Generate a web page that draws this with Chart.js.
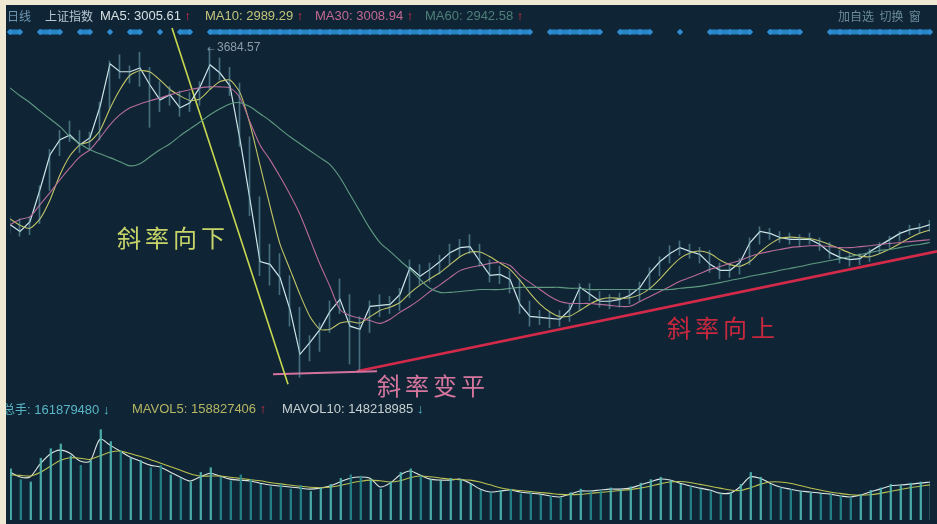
<!DOCTYPE html>
<html>
<head>
<meta charset="utf-8">
<script src="https://cdn.jsdelivr.net/npm/chart.js@4.4.1/dist/chart.umd.min.js"></script>
<style>
    html, body { margin: 0; padding: 0; }
    body { width: 937px; height: 524px; background: #efe8d2; overflow: hidden; position: relative; }
    #wrap { position: absolute; left: 6px; top: 5px; width: 931px; height: 519px; background: #0f2536; overflow: hidden; }
    .lbl { position: absolute; white-space: nowrap; font-family: 'Liberation Sans', 'Noto Sans CJK SC', sans-serif; font-size: 13px; line-height: 15px; }
    .cn { font-family: 'Noto Sans CJK SC', sans-serif; font-size: 12px; }
    .up { color: #e0304a; }
    .dn { color: #58c0d0; }
    .note { position: absolute; white-space: nowrap; font-family: 'Noto Sans CJK SC', sans-serif; font-size: 24px; line-height: 28px; letter-spacing: 4px; }
</style>
</head>
<body>
<div id="wrap">
    <canvas id="klineChart" width="931" height="519"></canvas>

    <!-- header line -->
    <span class="lbl cn" style="left:1px;top:3px;color:#6f97b4;">日线</span>
    <span class="lbl cn" style="left:39px;top:3px;color:#b4c6d0;">上证指数</span>
    <span class="lbl" style="left:94px;top:3px;color:#d6e0e2;">MA5: 3005.61 <span class="up">↑</span></span>
    <span class="lbl" style="left:199px;top:3px;color:#c4c47a;">MA10: 2989.29 <span class="up">↑</span></span>
    <span class="lbl" style="left:309px;top:3px;color:#c46892;">MA30: 3008.94 <span class="up">↑</span></span>
    <span class="lbl" style="left:419px;top:3px;color:#4f7f78;">MA60: 2942.58 <span class="up">↑</span></span>
    <span class="lbl cn" style="left:832px;top:3px;color:#6a8a9a;">加自选&nbsp;&nbsp;切换&nbsp;&nbsp;窗</span>

    <span class="lbl" style="left:199px;top:35px;color:#8a9cab;font-size:12px;">←3684.57</span>

    <!-- volume header -->
    <span class="lbl" style="left:-3px;top:396px;color:#58b6c6;"><span class="cn">总手</span>: 161879480 <span class="dn">↓</span></span>
    <span class="lbl" style="left:126px;top:396px;color:#b6b662;">MAVOL5: 158827406 <span class="up">↑</span></span>
    <span class="lbl" style="left:276px;top:396px;color:#c6d0d0;">MAVOL10: 148218985 <span class="dn">↓</span></span>

    <!-- slope notes -->
    <span class="note" style="left:111px;top:218px;color:#c6d468;">斜率向下</span>
    <span class="note" style="left:371px;top:366px;color:#d6769e;">斜率变平</span>
    <span class="note" style="left:661px;top:308px;color:#c8283e;">斜率向上</span>
</div>

<script>
// Daily K-line of the index, one entry per slot (left to right)
const ma5 = [3122, 3100, 3131, 3233, 3343, 3391, 3406, 3375, 3397, 3495,
    3631, 3606, 3606, 3618, 3564, 3517, 3533, 3492, 3508, 3558,
    3628, 3602, 3561, 3391, 3201, 3005, 2996, 2954, 2853, 2711,
    2749, 2790, 2847, 2885, 2800, 2790, 2863, 2866, 2869, 2901,
    2986, 2958, 2980, 3005, 3033, 3049, 3052, 3005, 2961, 2964,
    2948, 2869, 2831, 2828, 2825, 2822, 2853, 2923, 2901, 2879,
    2879, 2885, 2898, 2923, 2970, 3005, 3030, 3049, 3037, 3027,
    2996, 2977, 2977, 3002, 3065, 3100, 3094, 3081, 3075, 3075,
    3075, 3059, 3033, 3018, 3011, 3014, 3037, 3056, 3075, 3094,
    3106, 3112, 3122];

const highs = [3150, 3140, 3145, 3245, 3360, 3420, 3450, 3420, 3415, 3510,
    3640, 3660, 3625, 3668, 3620, 3575, 3560, 3545, 3540, 3575,
    3684, 3650, 3620, 3570, 3400, 3210, 3060, 3030, 2960, 2860,
    2770, 2810, 2880, 2950, 2900, 2830, 2880, 2900, 2895, 2920,
    3010, 2995, 3000, 3025, 3060, 3075, 3090, 3060, 3010, 2990,
    2975, 2950, 2880, 2850, 2845, 2850, 2870, 2935, 2935, 2910,
    2900, 2905, 2915, 2940, 2985, 3020, 3055, 3070, 3060, 3050,
    3040, 3000, 2995, 3015, 3080, 3115, 3110, 3100, 3095, 3090,
    3095, 3080, 3065, 3040, 3030, 3030, 3045, 3065, 3085, 3100,
    3120, 3125, 3135];

const lows = [3095, 3085, 3090, 3125, 3230, 3340, 3385, 3350, 3360, 3390,
    3490, 3585, 3570, 3560, 3430, 3480, 3500, 3465, 3480, 3500,
    3550, 3580, 3530, 3370, 3150, 2960, 2930, 2900, 2800, 2638,
    2690, 2720, 2780, 2840, 2680, 2660, 2780, 2830, 2840, 2850,
    2890, 2930, 2940, 2965, 2995, 3020, 3030, 2990, 2940, 2935,
    2905, 2840, 2800, 2805, 2795, 2800, 2815, 2850, 2880, 2860,
    2855, 2860, 2870, 2880, 2915, 2960, 3000, 3025, 3015, 3000,
    2970, 2950, 2955, 2965, 2995, 3060, 3075, 3065, 3060, 3055,
    3060, 3040, 3015, 3000, 2990, 2995, 3005, 3030, 3050, 3070,
    3090, 3095, 3100];

const ma10 = [3140, 3120, 3110, 3140, 3200, 3280, 3340, 3375, 3385, 3420,
    3490, 3550, 3595, 3610, 3605, 3580, 3550, 3530, 3515, 3520,
    3550, 3575, 3580, 3540, 3440, 3310, 3180, 3060, 2980, 2900,
    2830, 2790, 2790, 2810, 2815, 2810, 2830, 2850, 2860, 2875,
    2905, 2930, 2950, 2970, 2995, 3020, 3035, 3035, 3020, 3000,
    2980, 2945, 2905, 2870, 2845, 2830, 2832, 2850, 2870, 2885,
    2890, 2888, 2890, 2900, 2920, 2950, 2985, 3015, 3032, 3038,
    3030, 3010, 2995, 2990, 3005, 3035, 3060, 3078, 3082, 3080,
    3078, 3070, 3058, 3045, 3032, 3022, 3020, 3030, 3045, 3062,
    3080, 3095, 3105];

const ma30 = [3122, 3138, 3147, 3185, 3223, 3264, 3302, 3337, 3359, 3397,
    3438, 3470, 3492, 3504, 3514, 3523, 3533, 3542, 3549, 3555,
    3558, 3558, 3555, 3523, 3447, 3374, 3327, 3274, 3217, 3154,
    3075, 2996, 2926, 2853, 2834, 2825, 2818, 2809, 2822, 2844,
    2863, 2885, 2910, 2931, 2954, 2976, 2986, 2992, 2999, 3002,
    2992, 2961, 2938, 2916, 2894, 2878, 2872, 2872, 2872, 2869,
    2866, 2863, 2863, 2878, 2894, 2910, 2926, 2942, 2954, 2967,
    2980, 2989, 2999, 3008, 3021, 3030, 3037, 3043, 3049, 3052,
    3055, 3055, 3052, 3049, 3049, 3052, 3055, 3059, 3062, 3065,
    3068, 3071, 3074];

const ma60 = [3555, 3530, 3508, 3482, 3457, 3432, 3400, 3378, 3359, 3346,
    3334, 3321, 3308, 3315, 3337, 3359, 3378, 3403, 3425, 3447,
    3470, 3489, 3504, 3508, 3495, 3473, 3451, 3425, 3400, 3378,
    3356, 3334, 3312, 3271, 3217, 3163, 3109, 3065, 3037, 3008,
    2980, 2948, 2920, 2907, 2907, 2910, 2913, 2916, 2916, 2916,
    2920, 2923, 2923, 2923, 2923, 2923, 2920, 2920, 2916, 2916,
    2916, 2916, 2916, 2916, 2916, 2916, 2916, 2920, 2923, 2926,
    2932, 2938, 2945, 2951, 2958, 2964, 2970, 2977, 2983, 2989,
    2996, 3002, 3008, 3014, 3021, 3027, 3033, 3040, 3043, 3049,
    3055, 3059, 3065];

// Volume in millions of lots
const volumes = [215, 170, 160, 260, 300, 320, 270, 230, 250, 380,
    330, 290, 260, 250, 220, 230, 190, 175, 160, 200,
    220, 180, 165, 190, 170, 150, 140, 150, 130, 145,
    120, 135, 150, 175, 190, 185, 170, 130, 160, 200,
    215, 185, 170, 165, 175, 170, 150, 125, 115, 125,
    130, 110, 115, 105, 100, 95, 115, 130, 120, 125,
    135, 128, 140, 155, 170, 180, 165, 150, 140, 130,
    120, 110, 115, 150, 200, 180, 150, 135, 128, 120,
    115, 110, 108, 100, 95, 108, 125, 135, 150, 145,
    155, 160, 162];

const mavol5 = [202, 181, 181, 235, 277, 294, 281, 248, 248, 340,
    315, 290, 265, 248, 231, 223, 202, 181, 164, 181,
    197, 185, 172, 168, 164, 155, 147, 143, 139, 134,
    130, 134, 143, 160, 176, 181, 176, 139, 155, 189,
    206, 189, 172, 168, 168, 172, 155, 130, 118, 122,
    126, 118, 113, 109, 101, 97, 109, 122, 122, 126,
    130, 130, 134, 147, 160, 172, 168, 155, 143, 134,
    126, 113, 113, 139, 181, 176, 155, 139, 130, 122,
    118, 113, 109, 101, 97, 105, 118, 130, 143, 147,
    151, 155, 160];

const mavol10 = [190, 188, 185, 200, 225, 250, 262, 260, 255, 270,
    285, 290, 280, 268, 255, 240, 225, 210, 195, 185,
    185, 185, 180, 175, 170, 165, 158, 152, 147, 142,
    138, 136, 138, 145, 155, 163, 168, 165, 160, 165,
    178, 185, 182, 177, 172, 170, 168, 160, 148, 136,
    128, 124, 120, 116, 112, 108, 106, 108, 112, 116,
    120, 124, 128, 134, 142, 152, 160, 162, 158, 150,
    142, 134, 126, 124, 135, 150, 160, 160, 155, 145,
    135, 126, 118, 112, 106, 104, 106, 112, 120, 128,
    136, 142, 148];

// Slots that carry an information marker in the top strip
const markerSlots = [0, 1, 3, 4, 5, 7, 8, 10, 12, 13, 15, 17, 18,
    20, 21, 22, 23, 24, 25, 26, 27, 28, 29, 30, 31, 32, 33, 34, 35, 36,
    37, 38, 39, 40, 41, 42, 43, 44, 45, 46, 47, 48, 49, 50, 51, 52,
    54, 55, 56, 57, 58, 59, 61, 62, 63, 64, 67, 70, 71, 72, 73, 74,
    76, 77, 78, 79, 82, 83, 84, 85, 86, 87, 88, 89, 90, 91, 92];

// Hand-drawn slope lines: [slot, price] end points
const slopeDown = [[16.2, 3745], [27.8, 2616]];
const slopeFlat = [[26.3, 2648], [36.7, 2657]];
const slopeUp = [[34.7, 2657], [92.7, 3037]];

const PRICE_MIN = 2186;
const PRICE_MAX = 3751;
const VOL_MAX = 2079;
const STRIP_LEVEL = 98.8;

const toPoints = arr => arr.map((v, i) => ({ x: i, y: v }));
const toLine = pairs => pairs.map(p => ({ x: p[0], y: p[1] }));

function lineSet(label, data, color, width, axis, extra) {
    return Object.assign({
        type: 'line',
        label: label,
        data: data,
        yAxisID: axis,
        borderColor: color,
        borderWidth: width,
        pointRadius: 0,
        tension: 0,
        fill: false
    }, extra || {});
}

function createKLineChart() {
    const ctx = document.getElementById('klineChart');
    if (!ctx) return;

    const wicks = highs.map((h, i) => ({ x: i, y: [lows[i], h] }));
    const volBars = volumes.map((v, i) => ({ x: i, y: v }));
    const volColors = ma5.map((v, i) => (i > 0 && v < ma5[i - 1]) ? 'rgba(38,140,142,0.9)' : 'rgba(80,184,178,0.9)');
    const strip = ma5.map((v, i) => ({ x: i, y: markerSlots.includes(i) ? STRIP_LEVEL : null }));

    return new Chart(ctx, {
        type: 'line',
        data: {
            datasets: [
                lineSet('signal', strip, '#2784c4', 5, 'yStrip', {
                    spanGaps: false, pointRadius: 3.2, pointStyle: 'rectRot',
                    pointBackgroundColor: '#2f8cd0', pointBorderWidth: 0, clip: false
                }),
                {
                    type: 'bar', label: 'k', data: wicks, yAxisID: 'y',
                    backgroundColor: 'rgba(118,172,186,0.55)', barThickness: 1
                },
                {
                    type: 'bar', label: 'vol', data: volBars, yAxisID: 'yVol',
                    backgroundColor: volColors, barThickness: 1.6
                },
                lineSet('MA60', toPoints(ma60), '#5f9a80', 1.1, 'y', { tension: 0.3 }),
                lineSet('MA30', toPoints(ma30), '#b86a98', 1.1, 'y', { tension: 0.3 }),
                lineSet('MA10', toPoints(ma10), '#c2c466', 1.1, 'y', { tension: 0.2 }),
                lineSet('MA5', toPoints(ma5), '#cfe6ea', 1.2, 'y'),
                lineSet('MAVOL10', toPoints(mavol10), '#bcc04e', 1.1, 'yVol', { tension: 0.3 }),
                lineSet('MAVOL5', toPoints(mavol5), '#dfe6e2', 1.1, 'yVol', { tension: 0.3 }),
                lineSet('down', toLine(slopeDown), '#c8d850', 1.6, 'y', { clip: false }),
                lineSet('flat', toLine(slopeFlat), '#d4729e', 2, 'y', { clip: false }),
                lineSet('up', toLine(slopeUp), '#d42a4a', 2.6, 'y', { clip: false })
            ]
        },
        options: {
            responsive: false,
            animation: false,
            devicePixelRatio: 1,
            layout: { padding: { left: 4, right: 7, top: 21, bottom: 3 } },
            scales: {
                x: { type: 'linear', min: 0, max: 92, offset: false, display: false, grid: { display: false } },
                y: { min: PRICE_MIN, max: PRICE_MAX, display: false, grid: { display: false } },
                yVol: { min: 0, max: VOL_MAX, display: false, grid: { display: false } },
                yStrip: { min: 0, max: 100, display: false, grid: { display: false } }
            },
            plugins: {
                legend: { display: false },
                tooltip: { enabled: false }
            }
        }
    });
}

createKLineChart();
</script>
</body>
</html>
